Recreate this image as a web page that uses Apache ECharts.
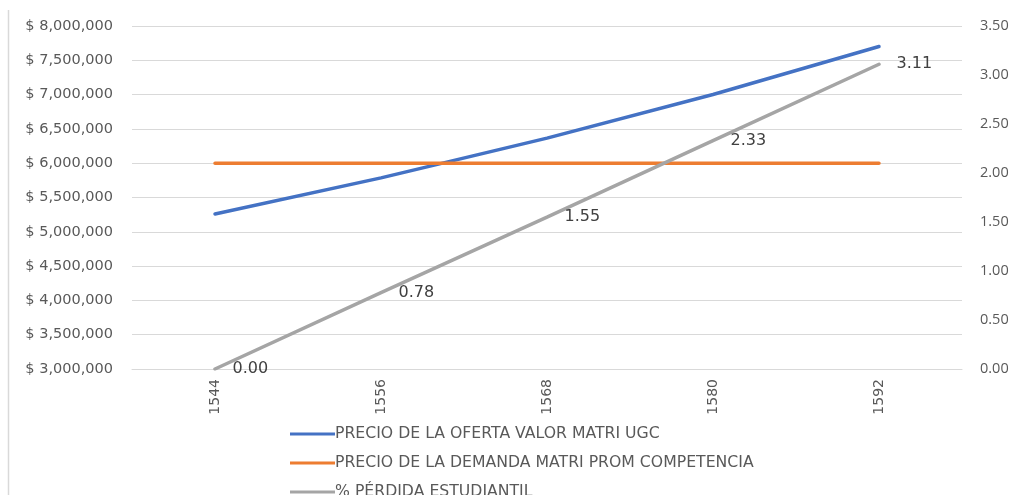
<!DOCTYPE html>
<html>
<head>
<meta charset="utf-8">
<script src="https://cdn.jsdelivr.net/npm/echarts@6/dist/echarts.min.js"></script>
<style>
  html, body { margin: 0; padding: 0; background: #fff; }
  #chart { width: 1015px; height: 495px; }
</style>
</head>
<body>
<div id="chart"></div>
<script>
// datos
const categories = ['1544', '1556', '1568', '1580', '1592'];
const ofertaUGC = [5260000, 5786000, 6365000, 7001000, 7701000];
const demandaCompetencia = [6000000, 6000000, 6000000, 6000000, 6000000];
const perdidaEstudiantil = [0.00, 0.78, 1.55, 2.33, 3.11];

const seriesNames = [
    'PRECIO DE LA OFERTA VALOR MATRI UGC',
    'PRECIO DE LA DEMANDA MATRI PROM COMPETENCIA',
    '% PÉRDIDA ESTUDIANTIL'
];

const textColor = '#595959';
const wideFont = 'DejaVu Sans, sans-serif';
const narrowFont = 'Open Sans, Liberation Sans, sans-serif';

let myChart = echarts.init(document.getElementById('chart'));

let option = {
    backgroundColor: '#FFF',
    animation: false,
    textStyle: { fontFamily: narrowFont },
    grid: {
        left: 132,
        right: 53,
        top: 26,
        bottom: 126
    },
    legend: {
        orient: 'vertical',
        left: 285,
        top: 420,
        height: 120,
        itemGap: 11,
        itemWidth: 45,
        itemHeight: 3,
        icon: 'rect',
        textStyle: {
            color: textColor,
            fontSize: 15.7,
            lineHeight: 18,
            fontFamily: wideFont,
            padding: [0, 0, 0, -5]
        },
        data: seriesNames
    },
    xAxis: {
        type: 'category',
        boundaryGap: true,
        data: categories,
        axisLine: { show: true, lineStyle: { color: '#d9d9d9', width: 1 } },
        axisTick: { show: false },
        axisLabel: {
            rotate: 90,
            color: textColor,
            fontSize: 14,
            fontFamily: wideFont,
            margin: 10
        }
    },
    yAxis: [{
        type: 'value',
        min: 3000000,
        max: 8000000,
        interval: 500000,
        axisLine: { show: false },
        axisTick: { show: false },
        splitLine: { lineStyle: { color: '#d9d9d9', width: 1 } },
        axisLabel: {
            color: textColor,
            fontSize: 14.5,
            fontFamily: wideFont,
            margin: 19,
            formatter: function (v) {
                return '$ ' + v.toLocaleString('en-US');
            }
        }
    }, {
        type: 'value',
        min: 0,
        max: 3.5,
        interval: 0.5,
        axisLine: { show: false },
        axisTick: { show: false },
        splitLine: { show: false },
        axisLabel: {
            color: textColor,
            fontSize: 14.5,
            fontFamily: narrowFont,
            margin: 18,
            formatter: function (v) { return v.toFixed(2); }
        }
    }],
    series: [{
        name: seriesNames[0],
        type: 'line',
        yAxisIndex: 0,
        showSymbol: false,
        symbol: 'none',
        lineStyle: { color: '#4472C4', width: 3.5, cap: 'round' },
        itemStyle: { color: '#4472C4' },
        data: ofertaUGC
    }, {
        name: seriesNames[1],
        type: 'line',
        yAxisIndex: 0,
        showSymbol: false,
        symbol: 'none',
        lineStyle: { color: '#ED7D31', width: 3.5, cap: 'round' },
        itemStyle: { color: '#ED7D31' },
        data: demandaCompetencia
    }, {
        name: seriesNames[2],
        type: 'line',
        yAxisIndex: 1,
        symbol: 'circle',
        symbolSize: 1,
        showSymbol: true,
        lineStyle: { color: '#A5A5A5', width: 3.5, cap: 'round' },
        itemStyle: { color: '#A5A5A5' },
        label: {
            show: true,
            position: 'right',
            distance: 17,
            color: '#404040',
            fontSize: 16,
            fontFamily: wideFont,
            formatter: function (p) { return p.value.toFixed(2); }
        },
        data: perdidaEstudiantil
    }],
    graphic: [{
        type: 'line',
        shape: { x1: 8.5, y1: 10, x2: 8.5, y2: 495 },
        style: { stroke: '#d9d9d9', lineWidth: 1.5 }
    }]
};
option && myChart.setOption(option);
</script>
</body>
</html>
